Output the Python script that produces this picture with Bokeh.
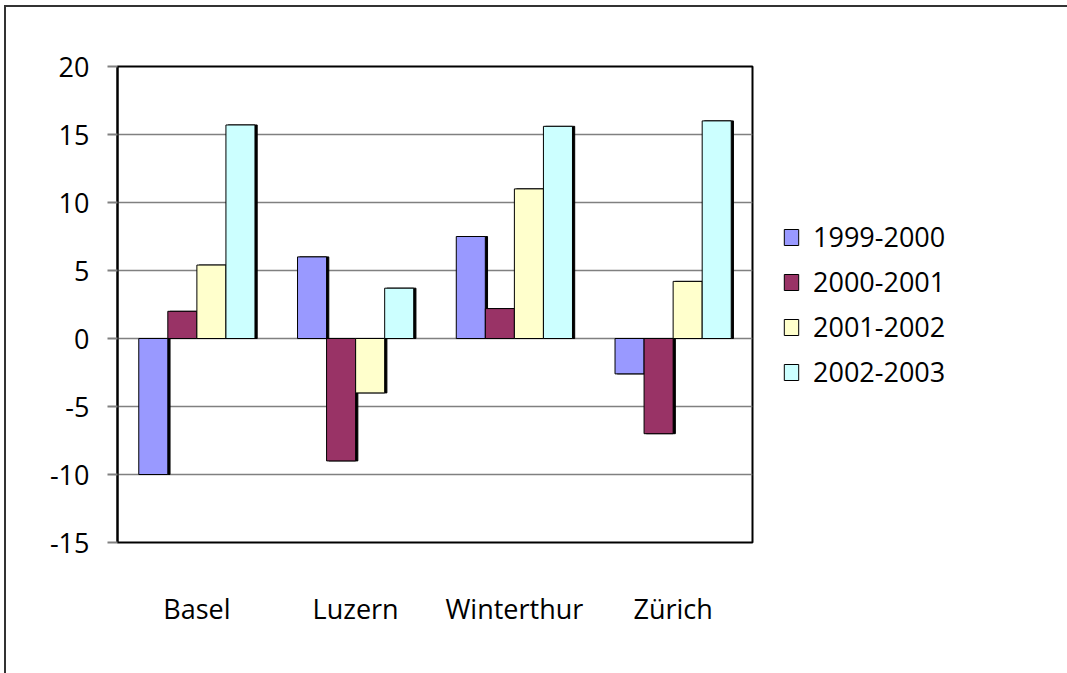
from bokeh.plotting import figure
from bokeh.models import FactorRange, Range1d, FixedTicker, Legend, LegendItem, ColumnDataSource
from bokeh.transform import dodge
from bokeh.embed import file_html
from bokeh.resources import INLINE

cities = ["Basel", "Luzern", "Winterthur", "Zürich"]
series = ["1999-2000", "2000-2001", "2001-2002", "2002-2003"]
v1999 = [-10.0, 6.0, 7.5, -2.6]
v2000 = [2.0, -9.0, 2.2, -7.0]
v2001 = [5.4, -4.0, 11.0, 4.2]
v2002 = [15.7, 3.7, 15.6, 16.0]
colors = ["#9999FF", "#993366", "#FFFFCC", "#CCFFFF"]
y_ticks = [-15, -10, -5, 0, 5, 10, 15, 20]
y_tick_labels = ["-15", "-10", "-5", "0", "5", "10", "15", "20"]

FONT = "Open Sans"
src = ColumnDataSource(dict(city=cities, s0=v1999, s1=v2000, s2=v2001, s3=v2002,
                            zero=[0, 0, 0, 0]))

p = figure(x_range=FactorRange(*cities), y_range=Range1d(-15, 20),
           frame_width=635, frame_height=476,
           min_border_left=111, min_border_top=59, min_border_bottom=131, min_border_right=20,
           output_backend="svg", toolbar_location=None)

bw = 0.183
offs = [-1.5 * bw, -0.5 * bw, 0.5 * bw, 1.5 * bw]
shadow = 0.014

for i in range(4):
    p.vbar(x=dodge("city", offs[i] + shadow, range=p.x_range), top=f"s{i}", bottom="zero",
           width=bw, source=src, fill_color="black", line_color="black")
renderers = []
for i in range(4):
    r = p.vbar(x=dodge("city", offs[i], range=p.x_range), top=f"s{i}", bottom="zero",
               width=bw, source=src, fill_color=colors[i], line_color="black", line_width=1)
    renderers.append(r)

p.xgrid.visible = False
p.ygrid.grid_line_color = "#808080"
p.ygrid.grid_line_width = 1.5
p.ygrid.level = "underlay"
p.yaxis.ticker = FixedTicker(ticks=y_ticks)
p.yaxis.major_label_overrides = {t: s for t, s in zip(y_ticks, y_tick_labels)}
p.yaxis.axis_line_color = "black"
p.yaxis.axis_line_width = 2
p.yaxis.major_tick_line_color = "#808080"
p.yaxis.major_tick_line_width = 2
p.yaxis.major_tick_out = 10
p.yaxis.major_tick_in = 0
p.yaxis.minor_tick_line_color = None
p.yaxis.major_label_standoff = 18
p.yaxis.major_label_text_font = FONT
p.yaxis.major_label_text_font_size = "27px"
p.yaxis.major_label_text_color = "black"

p.xaxis.axis_line_color = None
p.xaxis.major_tick_line_color = None
p.xaxis.minor_tick_line_color = None
p.xaxis.major_label_standoff = 41
p.xaxis.major_label_text_font = FONT
p.xaxis.major_label_text_font_size = "27px"
p.xaxis.major_label_text_color = "black"

p.outline_line_color = "black"
p.outline_line_width = 2

legend = Legend(items=[LegendItem(label=series[i], renderers=[renderers[i]]) for i in range(4)],
                location="center_left", margin=30, padding=4, border_line_color=None,
                glyph_width=18, glyph_height=20, label_height=30, spacing=8,
                label_standoff=13, label_text_font=FONT, label_text_font_size="27px",
                label_text_color="black", background_fill_alpha=0)
p.add_layout(legend, "right")

p.styles = {"margin-left": "4px", "margin-top": "5px",
            "border-left": "2px solid #333333", "border-top": "2px solid #333333"}

open("out.html", "w").write(file_html(p, INLINE))
